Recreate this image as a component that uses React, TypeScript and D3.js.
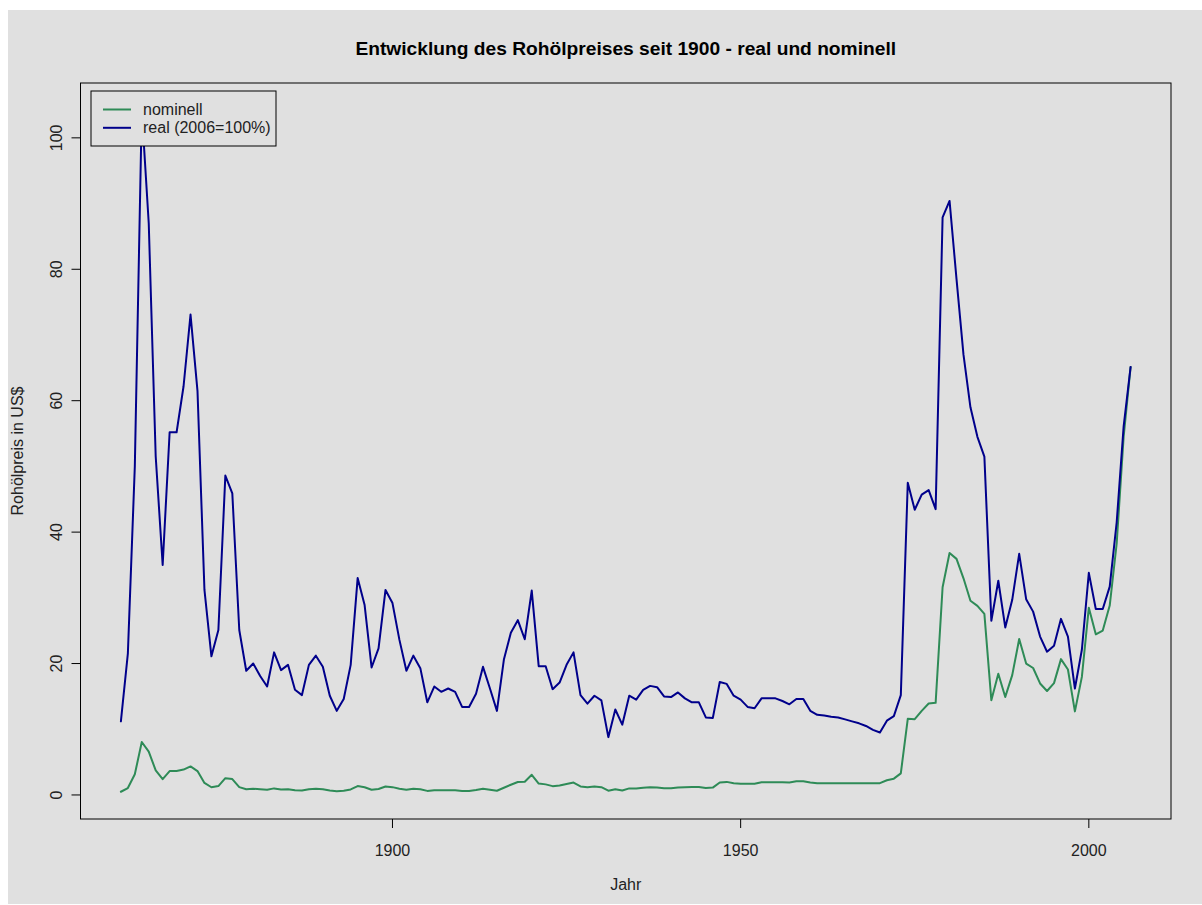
import React from "react";
import * as d3 from "d3";

const startYear = 1861;
const endYear = 2006;

const nominal = [
  0.49, 1.05, 3.15, 8.06, 6.59, 3.74, 2.41, 3.63, 3.64, 3.86,
  4.34, 3.64, 1.83, 1.17, 1.35, 2.56, 2.42, 1.19, 0.86, 0.95,
  0.86, 0.78, 1.0, 0.84, 0.88, 0.71, 0.67, 0.88, 0.94, 0.87,
  0.67, 0.56, 0.64, 0.84, 1.36, 1.18, 0.79, 0.91, 1.29, 1.19,
  0.96, 0.8, 0.94, 0.86, 0.62, 0.73, 0.72, 0.72, 0.7, 0.61,
  0.61, 0.74, 0.95, 0.81, 0.64, 1.1, 1.56, 1.98, 2.01, 3.07,
  1.73, 1.61, 1.34, 1.43, 1.68, 1.88, 1.3, 1.17, 1.27, 1.19,
  0.65, 0.87, 0.67, 1.0, 0.97, 1.09, 1.18, 1.13, 1.02, 1.02,
  1.14, 1.19, 1.2, 1.21, 1.05, 1.12, 1.9, 1.99, 1.78, 1.71,
  1.71, 1.71, 1.93, 1.93, 1.93, 1.93, 1.9, 2.08, 2.08, 1.9,
  1.8, 1.8, 1.8, 1.8, 1.8, 1.8, 1.8, 1.8, 1.8, 1.8,
  2.24, 2.48, 3.29, 11.58, 11.53, 12.8, 13.92, 14.02, 31.61, 36.83,
  35.93, 32.97, 29.55, 28.78, 27.56, 14.43, 18.44, 14.92, 18.23, 23.73,
  20.0, 19.32, 16.97, 15.82, 17.02, 20.67, 19.09, 12.72, 17.97, 28.5,
  24.44, 25.02, 28.83, 38.27, 54.52, 65.14,
];

const real = [
  11.2, 21.5, 50.0, 104.2, 87.0, 51.5, 35.0, 55.2, 55.2, 62.2,
  73.1, 61.5, 31.2, 21.1, 25.1, 48.6, 45.9, 25.1, 18.9, 20.0,
  18.1, 16.5, 21.7, 19.0, 19.8, 16.0, 15.2, 19.8, 21.2, 19.5,
  15.1, 12.8, 14.6, 19.8, 33.0, 28.9, 19.4, 22.3, 31.2, 29.2,
  23.6, 18.9, 21.2, 19.3, 14.1, 16.5, 15.7, 16.2, 15.7, 13.4,
  13.4, 15.4, 19.5, 16.2, 12.8, 20.6, 24.7, 26.6, 23.7, 31.1,
  19.6, 19.6, 16.1, 17.1, 19.8, 21.7, 15.2, 13.9, 15.1, 14.4,
  8.8, 13.0, 10.7, 15.1, 14.5, 16.0, 16.6, 16.4, 15.0, 14.9,
  15.6, 14.7, 14.1, 14.1, 11.8, 11.7, 17.2, 16.9, 15.1, 14.5,
  13.4, 13.2, 14.7, 14.7, 14.7, 14.3, 13.8, 14.6, 14.6, 12.8,
  12.2, 12.1, 11.9, 11.8, 11.5, 11.2, 10.9, 10.5, 9.9, 9.5,
  11.3, 12.0, 15.2, 47.5, 43.4, 45.7, 46.4, 43.5, 87.9, 90.4,
  78.5, 67.0, 59.0, 54.5, 51.5, 26.5, 32.6, 25.5, 29.7, 36.7,
  29.8, 27.9, 24.1, 21.8, 22.7, 26.8, 24.1, 16.2, 22.1, 33.8,
  28.3, 28.3, 31.7, 41.5, 56.1, 65.14,
];

const xTicks = [1900, 1950, 2000];
const yTicks = [0, 20, 40, 60, 80, 100];

const seriesNames = ["nominell", "real (2006=100%)"];
const seriesColors = ["#2E8B57", "#00008B"];

const titleText = "Entwicklung des Rohölpreises seit 1900 - real und nominell";
const xLabel = "Jahr";
const yLabel = "Rohölpreis in US$";

export default function App() {
  const W = 1202;
  const H = 905;
  const left = 80.5;
  const right = 1171;
  const top = 83;
  const bottom = 819;
  const font = "'Liberation Sans', Arial, sans-serif";

  const years = d3.range(startYear, endYear + 1);
  const xPad = 0.04 * (endYear - startYear);
  const x = d3
    .scaleLinear()
    .domain([startYear - xPad, endYear + xPad])
    .range([left, right]);

  const all = nominal.concat(real);
  const [yMin, yMax] = d3.extent(all) as [number, number];
  const yPad = 0.04 * (yMax - yMin);
  const y = d3
    .scaleLinear()
    .domain([yMin - yPad, yMax + yPad])
    .range([bottom, top]);

  const line = d3
    .line<number>()
    .x((_, i) => x(years[i]))
    .y((d) => y(d));

  const series = [nominal, real];

  return (
    <svg
      width={W}
      height={H}
      style={{ position: "absolute", left: 0, top: 0, background: "#ffffff" }}
      fontFamily={font}
    >
      <rect x={8} y={10} width={W - 8} height={894} fill="#E0E0E0" />
      <text
        x={(left + right) / 2}
        y={55}
        textAnchor="middle"
        fontSize={19.2}
        fontWeight="bold"
        fill="#000"
      >
        {titleText}
      </text>

      <defs>
        <clipPath id="plotClip">
          <rect x={left} y={top} width={right - left} height={bottom - top} />
        </clipPath>
      </defs>

      <g clipPath="url(#plotClip)">
        {series.map((s, k) => (
          <path
            key={k}
            d={line(s) || ""}
            fill="none"
            stroke={seriesColors[k]}
            strokeWidth={2}
            strokeLinejoin="round"
            strokeLinecap="round"
          />
        ))}
      </g>

      <rect
        x={left}
        y={top}
        width={right - left}
        height={bottom - top}
        fill="none"
        stroke="#000"
        strokeWidth={1}
      />

      {xTicks.map((t) => (
        <g key={t}>
          <line x1={x(t)} x2={x(t)} y1={bottom} y2={bottom + 9} stroke="#000" />
          <text x={x(t)} y={856} textAnchor="middle" fontSize={16} fill="#222">
            {t}
          </text>
        </g>
      ))}
      {yTicks.map((t) => (
        <g key={t}>
          <line x1={left - 9} x2={left} y1={y(t)} y2={y(t)} stroke="#000" />
          <text
            transform={`translate(62,${y(t)}) rotate(-90)`}
            textAnchor="middle"
            fontSize={16}
            fill="#222"
          >
            {t}
          </text>
        </g>
      ))}

      <text x={(left + right) / 2} y={890} textAnchor="middle" fontSize={16} fill="#222">
        {xLabel}
      </text>
      <text
        transform={`translate(23,${(top + bottom) / 2}) rotate(-90)`}
        textAnchor="middle"
        fontSize={16}
        fill="#222"
      >
        {yLabel}
      </text>

      <g>
        <rect x={91} y={91} width={185} height={55} fill="#E0E0E0" stroke="#000" strokeWidth={1} />
        {seriesNames.map((n, i) => (
          <g key={n}>
            <line
              x1={103}
              x2={131}
              y1={109.5 + i * 18.3}
              y2={109.5 + i * 18.3}
              stroke={seriesColors[i]}
              strokeWidth={2}
            />
            <text x={143} y={115 + i * 18.3} fontSize={16} fill="#222">
              {n}
            </text>
          </g>
        ))}
      </g>
    </svg>
  );
}
